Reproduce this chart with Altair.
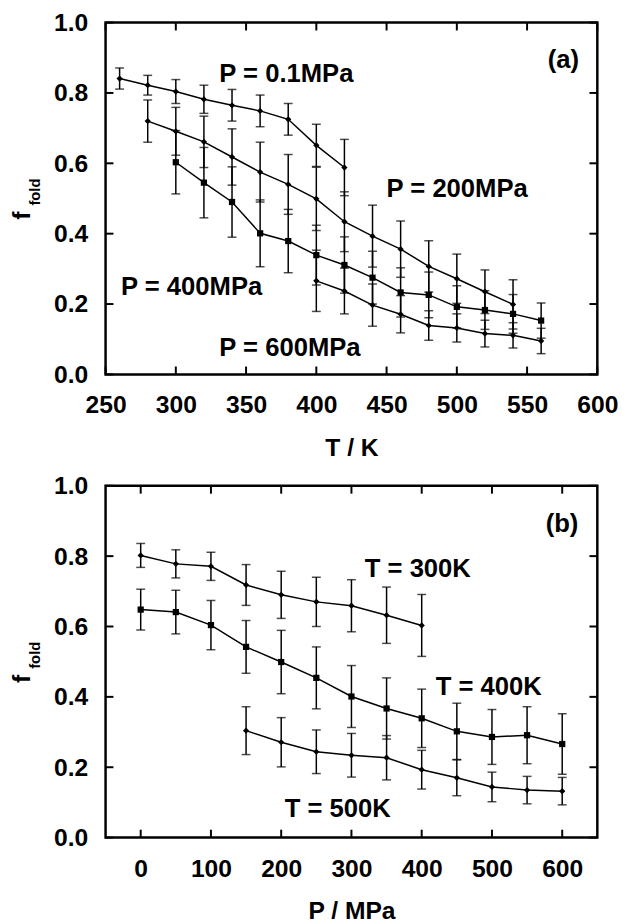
import altair as alt
import pandas as pd

# ---------------- Panel (a): f_fold vs T ----------------
T_01 = [260, 280, 300, 320, 340, 360, 380, 400, 420]
f_01 = [0.841, 0.822, 0.804, 0.782, 0.765, 0.749, 0.725, 0.651, 0.588]
e_01 = [0.030, 0.028, 0.034, 0.040, 0.045, 0.045, 0.045, 0.060, 0.080]

T_200 = [280, 300, 320, 340, 360, 380, 400, 420, 440, 460, 480, 500, 520, 540]
f_200 = [0.720, 0.691, 0.661, 0.618, 0.575, 0.540, 0.499, 0.434, 0.393, 0.356, 0.307, 0.272, 0.235, 0.199]
e_200 = [0.060, 0.068, 0.073, 0.080, 0.085, 0.085, 0.090, 0.085, 0.088, 0.080, 0.073, 0.070, 0.062, 0.070]

T_400 = [300, 320, 340, 360, 380, 400, 420, 440, 460, 480, 500, 520, 540, 560]
f_400 = [0.603, 0.545, 0.490, 0.401, 0.379, 0.339, 0.311, 0.275, 0.233, 0.226, 0.192, 0.183, 0.172, 0.153]
e_400 = [0.090, 0.100, 0.100, 0.095, 0.090, 0.085, 0.080, 0.075, 0.070, 0.065, 0.060, 0.055, 0.055, 0.050]

T_600 = [400, 420, 440, 460, 480, 500, 520, 540, 560]
f_600 = [0.266, 0.237, 0.197, 0.171, 0.139, 0.132, 0.116, 0.111, 0.095]
e_600 = [0.087, 0.065, 0.060, 0.053, 0.042, 0.040, 0.038, 0.036, 0.036]

labels_a = ["P = 0.1MPa", "P = 200MPa", "P = 400MPa", "P = 600MPa"]
labels_a_x = [331, 450, 261, 331]
labels_a_y = [0.854, 0.527, 0.249, 0.076]

# ---------------- Panel (b): f_fold vs P ----------------
P_300 = [0, 50, 100, 150, 200, 250, 300, 350, 400]
f_300 = [0.802, 0.778, 0.771, 0.718, 0.690, 0.670, 0.659, 0.632, 0.603]
e_300 = [0.034, 0.040, 0.040, 0.058, 0.067, 0.070, 0.074, 0.080, 0.088]

P_400 = [0, 50, 100, 150, 200, 250, 300, 350, 400, 450, 500, 550, 600]
f_400K = [0.648, 0.641, 0.604, 0.542, 0.499, 0.454, 0.401, 0.367, 0.339, 0.302, 0.286, 0.291, 0.266]
e_400K = [0.058, 0.062, 0.070, 0.075, 0.090, 0.088, 0.088, 0.087, 0.083, 0.080, 0.078, 0.081, 0.086]

P_500 = [150, 200, 250, 300, 350, 400, 450, 500, 550, 600]
f_500 = [0.304, 0.271, 0.244, 0.234, 0.227, 0.193, 0.170, 0.144, 0.135, 0.132]
e_500 = [0.068, 0.070, 0.062, 0.062, 0.063, 0.055, 0.051, 0.042, 0.039, 0.039]

labels_b = ["T = 300K", "T = 400K", "T = 500K"]
labels_b_x = [319, 420, 205]
labels_b_y = [0.762, 0.429, 0.080]

x_ticks_a = [250, 300, 350, 400, 450, 500, 550, 600]
x_ticks_b = [0, 100, 200, 300, 400, 500, 600]
y_ticks = [0.0, 0.2, 0.4, 0.6, 0.8, 1.0]

W, H = 499, 357
FONT = "Liberation Sans"
TICK = 8
LBL = 25
ANN = 26


def frame(names, xs, fs, es):
    rows = []
    for n, xv, fv, ev in zip(names, xs, fs, es):
        for a, b, c in zip(xv, fv, ev):
            rows.append({"series": n, "x": a, "f": b, "lo": b - c, "hi": b + c})
    return pd.DataFrame(rows)


def panel(df, names, shapes, sizes, xdomain, xticks, xtitle, labels, lx, ly, tag, tag_x, tag_y):
    def X(field):
        return alt.X(f"{field}:Q", scale=alt.Scale(domain=xdomain, nice=False, zero=False),
                     axis=alt.Axis(values=xticks, title=xtitle, ticks=False, domain=False,
                                   labelFlush=False, labelOverlap=False, labelPadding=19,
                                   titlePadding=18, grid=False))

    def Y(field):
        return alt.Y(f"{field}:Q", scale=alt.Scale(domain=[0, 1], nice=False, zero=False),
                     axis=alt.Axis(values=y_ticks, format=".1f", title="", ticks=False, domain=False,
                                   labelFlush=False, labelOverlap=False, labelPadding=18, grid=False))

    base = alt.Chart(df)
    lines = base.mark_line(color="black", strokeWidth=1.5).encode(x=X("x"), y=Y("f"), detail="series:N")
    bars = base.mark_rule(color="black", strokeWidth=1.5).encode(x=X("x"), y=Y("lo"), y2="hi:Q")
    cap_lo = base.mark_tick(color="black", orient="horizontal", size=9, thickness=1.5).encode(x=X("x"), y=Y("lo"))
    cap_hi = base.mark_tick(color="black", orient="horizontal", size=9, thickness=1.5).encode(x=X("x"), y=Y("hi"))
    pts = base.mark_point(filled=True, color="black", opacity=1).encode(
        x=X("x"), y=Y("f"),
        shape=alt.Shape("series:N", scale=alt.Scale(domain=names, range=shapes), legend=None),
        size=alt.Size("series:N", scale=alt.Scale(domain=names, range=sizes), legend=None),
    )

    xt = pd.DataFrame({"v": xticks})
    yt = pd.DataFrame({"v": y_ticks})
    tb = alt.Chart(xt).mark_rule(color="black", strokeWidth=2).encode(x=X("v"), y=alt.value(H), y2=alt.value(H - TICK))
    tt = alt.Chart(xt).mark_rule(color="black", strokeWidth=2).encode(x=X("v"), y=alt.value(0), y2=alt.value(TICK))
    tl = alt.Chart(yt).mark_rule(color="black", strokeWidth=2).encode(y=Y("v"), x=alt.value(0), x2=alt.value(TICK))
    tr = alt.Chart(yt).mark_rule(color="black", strokeWidth=2).encode(y=Y("v"), x=alt.value(W), x2=alt.value(W - TICK))

    ann = alt.Chart(pd.DataFrame({"x": lx, "y": ly, "t": labels})).mark_text(
        align="left", baseline="middle", font=FONT, fontWeight="bold", fontSize=ANN, color="black"
    ).encode(x=X("x"), y=Y("y"), text="t:N")
    tagc = alt.Chart(pd.DataFrame({"x": [tag_x], "y": [tag_y], "t": [tag]})).mark_text(
        align="right", baseline="middle", font=FONT, fontWeight="bold", fontSize=ANN, color="black"
    ).encode(x=X("x"), y=Y("y"), text="t:N")

    one = pd.DataFrame({"t": ["f"], "s": ["fold"]})
    yf = alt.Chart(one).mark_text(angle=270, align="center", baseline="alphabetic", font=FONT,
                                  fontWeight="bold", fontSize=25, color="black").encode(
        x=alt.value(-77), y=alt.value(196), text="t:N")
    ys = alt.Chart(one).mark_text(angle=270, align="center", baseline="alphabetic", font=FONT,
                                  fontWeight="bold", fontSize=15, color="black").encode(
        x=alt.value(-67), y=alt.value(172), text="s:N")

    return alt.layer(lines, bars, cap_lo, cap_hi, pts, tb, tt, tl, tr, ann, tagc, yf, ys).properties(width=W, height=H)


df_a = frame(["0.1", "200", "400", "600"], [T_01, T_200, T_400, T_600],
             [f_01, f_200, f_400, f_600], [e_01, e_200, e_400, e_600])
df_b = frame(["300", "400", "500"], [P_300, P_400, P_500],
             [f_300, f_400K, f_500], [e_300, e_400K, e_500])

pa = panel(df_a, ["0.1", "200", "400", "600"], ["diamond", "diamond", "square", "diamond"], [40, 40, 36, 22],
           [250, 600], x_ticks_a, "T / K", labels_a, labels_a_x, labels_a_y, "(a)", 587, 0.894)
pb = panel(df_b, ["300", "400", "500"], ["diamond", "square", "diamond"], [40, 44, 22],
           [-50, 650], x_ticks_b, "P / MPa", labels_b, labels_b_x, labels_b_y, "(b)", 623, 0.890)

chart = alt.vconcat(pa, pb, spacing=10).properties(
    padding={"left": 0, "top": -6, "right": 0, "bottom": 0}
).configure_view(stroke="black", strokeWidth=2.5).configure_axis(
    labelFont=FONT, labelFontWeight="bold", labelFontSize=LBL, labelColor="black",
    titleFont=FONT, titleFontWeight="bold", titleFontSize=LBL, titleColor="black"
)

chart.save("out.html", embed_options={"renderer": "svg", "actions": False})
